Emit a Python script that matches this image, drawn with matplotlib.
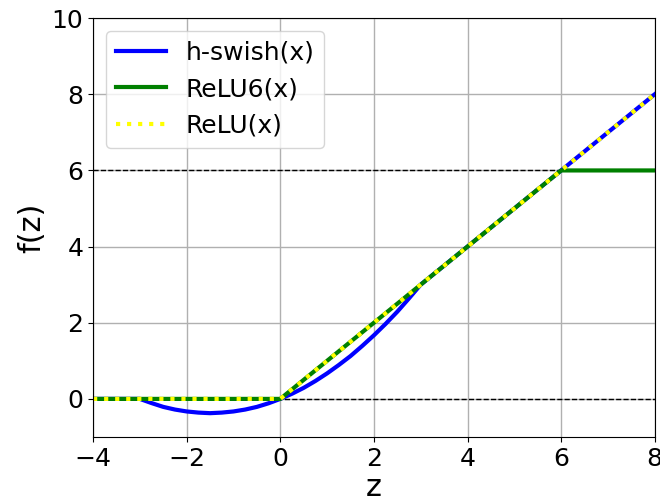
import matplotlib
matplotlib.use('Agg')
import matplotlib.pyplot as plt

# h-swish values
hswish_x = [-4, -3.5, -3, -2.75, -2.5, -2.25, -2, -1.75, -1.5, -1.25, -1, -0.75, -0.5, -0.25,
            0, 0.25, 0.5, 0.75, 1, 1.25, 1.5, 1.75, 2, 2.25, 2.5, 2.75, 3, 4, 5, 6, 7, 8]
hswish_y = [0, 0, 0, -0.11, -0.21, -0.28, -0.33, -0.36, -0.375, -0.36, -0.33, -0.28, -0.21, -0.115,
            0, 0.135, 0.29, 0.47, 0.67, 0.89, 1.125, 1.39, 1.67, 1.97, 2.29, 2.64, 3, 4, 5, 6, 7, 8]

# ReLU6 breakpoints
relu6_x = [-4, 0, 6, 8]
relu6_y = [0, 0, 6, 6]

# ReLU breakpoints
relu_x = [-4, 0, 8]
relu_y = [0, 0, 8]

fig, ax = plt.subplots(figsize=(6.6, 5.04), dpi=100)
ax.axhline(0, color='black', linestyle='--', linewidth=1)
ax.axhline(6, color='black', linestyle='--', linewidth=1)
ax.plot(hswish_x, hswish_y, color='blue', linewidth=3, label='h-swish(x)')
ax.plot(relu6_x, relu6_y, color='green', linewidth=3, label='ReLU6(x)')
ax.plot(relu_x, relu_y, color='yellow', linewidth=3, linestyle=':', label='ReLU(x)')

ax.set_xlim(-4, 8)
ax.set_ylim(-1, 10)
ax.grid(True, color='#b0b0b0', linewidth=1)
ax.set_axisbelow(True)
ax.tick_params(labelsize=18)
ax.set_xlabel('z', fontsize=22, labelpad=2)
ax.set_ylabel('f(z)', fontsize=22)
ax.legend(loc='upper left', fontsize=18)

plt.subplots_adjust(left=0.141, right=0.992, top=0.964, bottom=0.133)
plt.savefig('out.png')
